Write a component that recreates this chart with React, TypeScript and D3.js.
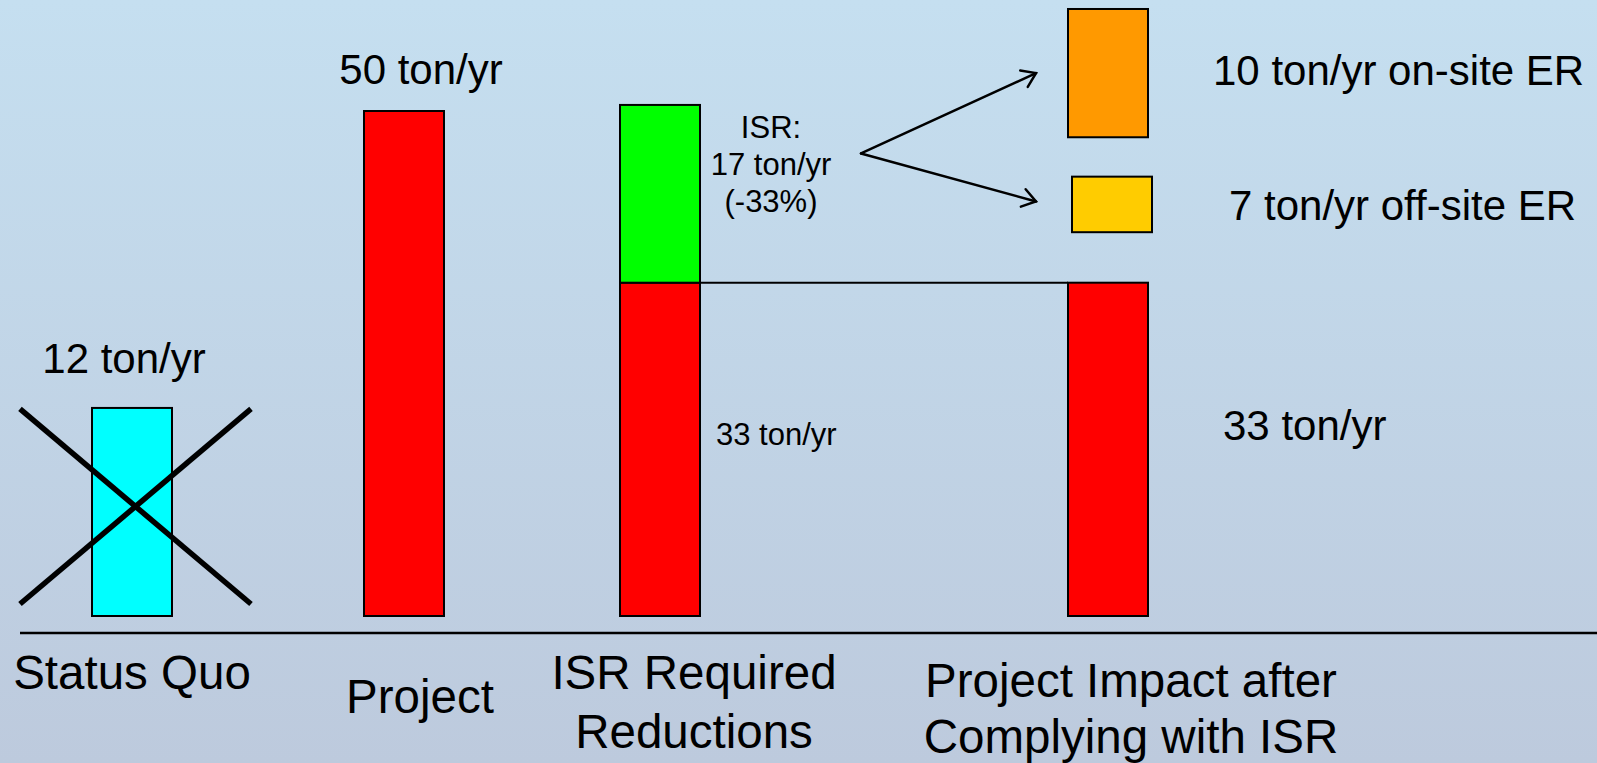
import React from "react";
import * as d3 from "d3";

// categories along the bottom
const categoryKeys = ["statusQuo", "project", "isr", "impact"];
const categoryLines = [
  ["Status Quo"],
  ["Project"],
  ["ISR Required", "Reductions"],
  ["Project Impact after", "Complying with ISR"]
];

// bar segments (ton/yr, as drawn in the picture)
const segCategory = ["statusQuo", "project", "isr", "isr", "impact", "impact", "impact"];
const segKind = ["statusQuo", "emission", "remaining", "isrCut", "remaining", "offsite", "onsite"];
const segLow = [0, 0, 0, 33, 0, 38.0, 47.4];
const segHigh = [20.6, 50, 33, 50.6, 33, 43.5, 60.1];

// value labels
const statusQuoLabel = "12 ton/yr";
const projectLabel = "50 ton/yr";
const isrLines = ["ISR:", "17 ton/yr", "(-33%)"];
const remainingLabel = "33 ton/yr";
const onsiteLabel = "10 ton/yr on-site ER";
const offsiteLabel = "7 ton/yr off-site ER";

const W = 1597;
const H = 763;
const barW = 80;
const FONT = "'Liberation Sans', Arial, sans-serif";

const kindColor: Record<string, string> = {
  statusQuo: "#00ffff",
  emission: "#ff0000",
  remaining: "#ff0000",
  isrCut: "#00ff00",
  offsite: "#ffcc00",
  onsite: "#ff9900"
};

export default function App() {
  const y = d3.scaleLinear().domain([0, 50]).range([616, 111]);
  // category centers (hand-placed slide layout)
  const x = d3.scaleOrdinal<string, number>().domain(categoryKeys).range([132, 404, 660, 1108]);

  const segs = segCategory.map((c, i) => ({
    cat: c,
    kind: segKind[i],
    lo: segLow[i],
    hi: segHigh[i]
  }));

  const sq = segs[0];
  const sqX0 = x("statusQuo") - 112;
  const sqX1 = x("statusQuo") + 119;

  const isrSplit = y(segs[2].hi);
  const onsite = segs[6];
  const offsite = segs[5];
  const arrowFromX = x("isr") + 201;
  const arrowFromY = y(45.8);
  const tipX = x("impact") - barW / 2 - 32;
  const tipOn = y((onsite.lo + onsite.hi) / 2);
  const tipOff = y((offsite.lo + offsite.hi) / 2) - 3;

  const arrowHead = (x0: number, y0: number, x1: number, y1: number) => {
    const a = Math.atan2(y1 - y0, x1 - x0);
    const len = 16;
    const spread = 0.6;
    const p1 = [x1 - len * Math.cos(a - spread), y1 - len * Math.sin(a - spread)];
    const p2 = [x1 - len * Math.cos(a + spread), y1 - len * Math.sin(a + spread)];
    return `M${p1[0]},${p1[1]}L${x1},${y1}L${p2[0]},${p2[1]}`;
  };

  return (
    <svg
      width={W}
      height={H}
      style={{ position: "absolute", left: 0, top: 0, display: "block" }}
      fontFamily={FONT}
    >
      <defs>
        <linearGradient id="bg" x1="0" y1="0" x2="0" y2="1">
          <stop offset="0%" stopColor="#c5dff0" />
          <stop offset="100%" stopColor="#bdcadd" />
        </linearGradient>
      </defs>
      <rect x={0} y={0} width={W} height={H} fill="url(#bg)" />

      {/* bars */}
      {segs.map((s, i) => (
        <rect
          key={i}
          x={x(s.cat) - barW / 2 + (s.kind === "offsite" ? 4 : 0)}
          y={y(s.hi)}
          width={barW}
          height={y(s.lo) - y(s.hi)}
          fill={kindColor[s.kind]}
          stroke="#000"
          strokeWidth={2}
        />
      ))}

      {/* cross over status quo */}
      <line x1={sqX0} y1={y(sq.hi) + 1} x2={sqX1} y2={y(sq.lo) - 12} stroke="#000" strokeWidth={5.5} />
      <line x1={sqX1} y1={y(sq.hi) + 1} x2={sqX0} y2={y(sq.lo) - 12} stroke="#000" strokeWidth={5.5} />

      {/* connector from ISR split to remaining impact */}
      <line
        x1={x("isr") + barW / 2}
        y1={isrSplit}
        x2={x("impact") - barW / 2}
        y2={isrSplit}
        stroke="#000"
        strokeWidth={2}
      />

      {/* arrows to ER boxes */}
      <g stroke="#000" strokeWidth={2.5} fill="none" strokeLinecap="round">
        <line x1={arrowFromX} y1={arrowFromY} x2={tipX} y2={tipOn} />
        <path d={arrowHead(arrowFromX, arrowFromY, tipX, tipOn)} />
        <line x1={arrowFromX} y1={arrowFromY} x2={tipX} y2={tipOff} />
        <path d={arrowHead(arrowFromX, arrowFromY, tipX, tipOff)} />
      </g>

      {/* baseline */}
      <line x1={20} y1={633} x2={W} y2={633} stroke="#000" strokeWidth={2.5} />

      {/* value labels */}
      <text x={x("statusQuo") - 8} y={y(sq.hi) - 35} fontSize={42} textAnchor="middle">
        {statusQuoLabel}
      </text>
      <text x={x("project") + 17} y={y(segs[1].hi) - 27} fontSize={42} textAnchor="middle">
        {projectLabel}
      </text>
      <text fontSize={31} textAnchor="middle">
        {isrLines.map((t, i) => (
          <tspan key={i} x={x("isr") + 111} y={y(segs[3].hi) + 33 + i * 37}>
            {t}
          </tspan>
        ))}
      </text>
      <text x={x("isr") + barW / 2 + 16} y={445} fontSize={31}>
        {remainingLabel}
      </text>
      <text x={x("impact") + barW / 2 + 75} y={440} fontSize={42}>
        {remainingLabel}
      </text>
      <text x={x("impact") + barW / 2 + 65} y={y(onsite.hi) + 76} fontSize={42}>
        {onsiteLabel}
      </text>
      <text x={x("impact") + barW / 2 + 81} y={y(offsite.hi) + 43} fontSize={42}>
        {offsiteLabel}
      </text>

      {/* category labels */}
      {categoryKeys.map((k, i) => {
        const lines = categoryLines[i];
        const offsets = [0, 16, 34, 23];
        const firstBase = [689, 713, 689, 697][i];
        const lineGap = [59, 59, 59, 56][i];
        return (
          <text key={k} fontSize={47.5} textAnchor="middle">
            {lines.map((t, j) => (
              <tspan key={j} x={x(k) + offsets[i]} y={firstBase + j * lineGap}>
                {t}
              </tspan>
            ))}
          </text>
        );
      })}
    </svg>
  );
}
